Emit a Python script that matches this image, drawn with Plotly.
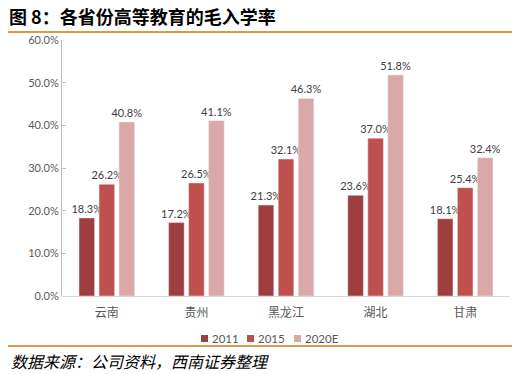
import plotly.graph_objects as go

categories = ["云南", "贵州", "黑龙江", "湖北", "甘肃"]
series_names = ["2011", "2015", "2020E"]
v2011 = [0.183, 0.172, 0.213, 0.236, 0.181]
v2015 = [0.262, 0.265, 0.321, 0.370, 0.254]
v2020 = [0.408, 0.411, 0.463, 0.518, 0.324]
colors = ["#9E3E3E", "#C0504D", "#DBA8A8"]

L, R, T, B = 62, 11, 40, 78
W, H = 521, 374
pw, ph = W - L - R, H - T - B
def px(x): return (x - L) / pw
def py(y): return (H - B - y) / ph

fig = go.Figure()
for name, vals, c in zip(series_names, [v2011, v2015, v2020], colors):
    fig.add_trace(go.Bar(
        x=categories, y=vals, name=name, marker_color=c,
        text=[f"{v*100:.1f}%" for v in vals], textposition="outside",
        constraintext="none", showlegend=False,
        textfont=dict(size=11, color="#404040"), cliponaxis=False,
    ))

# legend drawn as swatches + text (positions in pixels)
legend_x = [201, 247, 294]
shapes = [
    dict(type="line", xref="paper", yref="paper", x0=px(8), x1=px(512), y0=py(32), y1=py(32),
         line=dict(color="#D49D4A", width=2)),
    dict(type="line", xref="paper", yref="paper", x0=px(8), x1=px(512), y0=py(346), y1=py(346),
         line=dict(color="#D49D4A", width=2)),
]
annotations = [
    dict(text="<b>图 8：各省份高等教育的毛入学率</b>", xref="paper", yref="paper",
         x=px(7), y=py(16), xanchor="left", yanchor="middle", showarrow=False,
         font=dict(size=18, color="#000000", family="'Noto Sans CJK SC'")),
    dict(text="<i>数据来源：公司资料，西南证券整理</i>", xref="paper", yref="paper",
         x=px(9), y=py(361), xanchor="left", yanchor="middle", showarrow=False,
         font=dict(size=16, color="#000000", family="'Noto Sans CJK SC'")),
]
for lx, name, c in zip(legend_x, series_names, colors):
    shapes.append(dict(type="rect", xref="paper", yref="paper",
                       x0=px(lx), x1=px(lx + 7), y0=py(342), y1=py(335),
                       fillcolor=c, line=dict(width=0)))
    annotations.append(dict(text=name, xref="paper", yref="paper", x=px(lx + 9), y=py(338.5),
                            xanchor="left", yanchor="middle", showarrow=False,
                            font=dict(size=11.5, color="#595959")))

font_fam = "Lato, 'Noto Sans CJK SC', sans-serif"
fig.update_layout(
    width=W, height=H, margin=dict(l=L, r=R, t=T, b=B, autoexpand=False),
    plot_bgcolor="white", paper_bgcolor="white",
    font=dict(family=font_fam, size=11, color="#595959"),
    barmode="group", bargap=0.33, bargroupgap=0.22,
    showlegend=False,
    xaxis=dict(showline=True, linecolor="#D9D9D9", linewidth=1, ticks="", ticklabelstandoff=6,
               tickfont=dict(size=12, color="#595959", family="'Noto Sans CJK SC'")),
    yaxis=dict(range=[0, 0.6], dtick=0.1, tickformat=".1%", showgrid=False, zeroline=False,
               showline=True, linecolor="#BFBFBF", linewidth=1, ticks="inside", ticklen=4,
               tickcolor="#BFBFBF", tickfont=dict(size=11, color="#595959")),
    shapes=shapes,
    annotations=annotations,
)
fig.write_html("out.html", config={"displayModeBar": False},
               post_script="document.body.style.margin='0';document.body.style.overflow='hidden';")
